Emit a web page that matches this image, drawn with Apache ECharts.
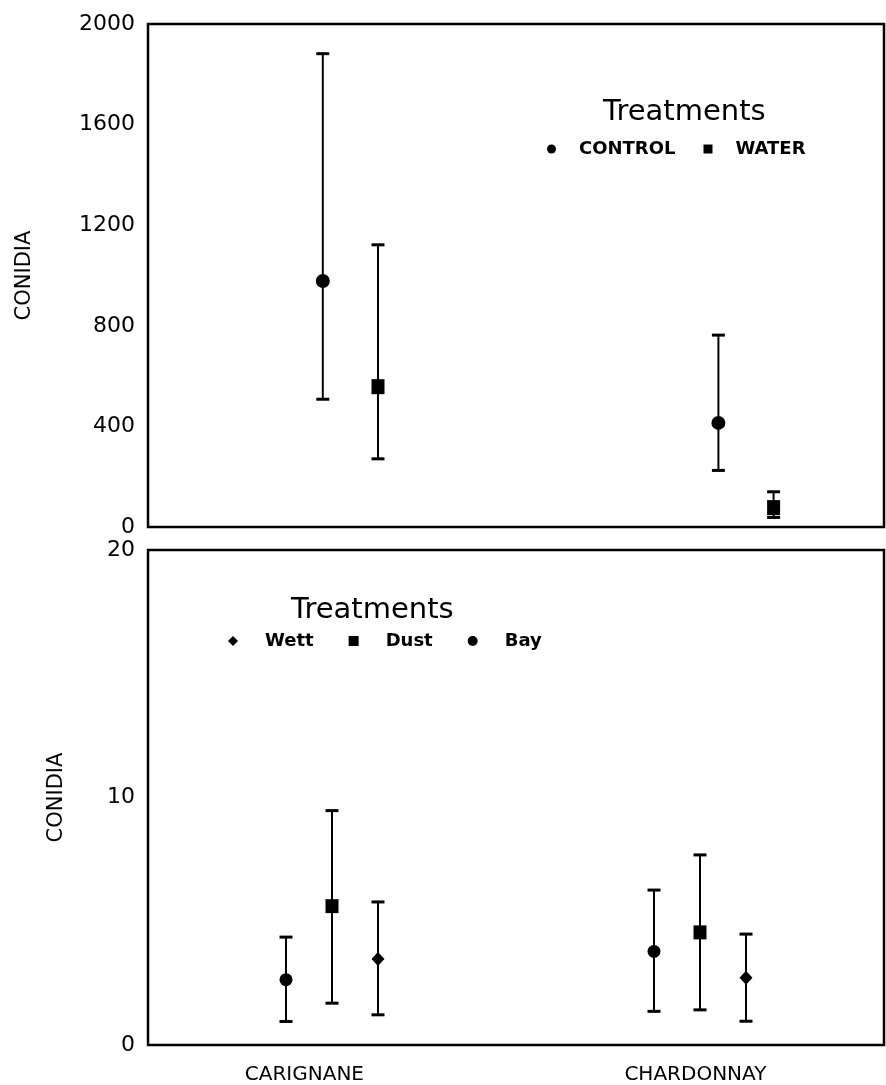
<!DOCTYPE html>
<html>
<head>
<meta charset="utf-8">
<script src="https://cdn.jsdelivr.net/npm/echarts@6/dist/echarts.min.js"></script>
<style>
  html, body { margin: 0; padding: 0; background: #fff; }
  #main { width: 886px; height: 1085px; }
</style>
</head>
<body>
<div id="main"></div>
<script>
// varieties and where their names sit on the x axis
var varieties = ['CARIGNANE', 'CHARDONNAY'];
var varietyPos = [3.4, 11.9];

// top panel: CONTROL / WATER
var controlX = [3.8, 12.4];
var controlMean = [978, 414];
var controlLow = [508, 225];
var controlHigh = [1882, 763];

var waterX = [5.0, 13.6];
var waterMean = [558, 77];
var waterLow = [271, 38];
var waterHigh = [1122, 140];

// bottom panel: Wett / Dust / Bay
var bayX = [3, 11];
var bayMean = [2.64, 3.78];
var bayLow = [0.95, 1.36];
var bayHigh = [4.36, 6.26];

var dustX = [4, 12];
var dustMean = [5.61, 4.55];
var dustLow = [1.69, 1.42];
var dustHigh = [9.47, 7.68];

var wettX = [5, 13];
var wettMean = [3.47, 2.72];
var wettLow = [1.22, 0.96];
var wettHigh = [5.78, 4.48];

var FONT = 'DejaVu Sans';

function pts(xs, ys) {
	var out = [];
	for (var i = 0; i < xs.length; i++) out.push([xs[i], ys[i]]);
	return out;
}
function bars(xs, lo, hi) {
	var out = [];
	for (var i = 0; i < xs.length; i++) out.push([xs[i], lo[i], hi[i]]);
	return out;
}

function errorBar(params, api) {
	var x = api.value(0);
	var p1 = api.coord([x, api.value(2)]);
	var p2 = api.coord([x, api.value(1)]);
	var w = 6.5;
	return {
		type: 'group',
		children: [
			{type: 'line', shape: {x1: p1[0], y1: p1[1], x2: p2[0], y2: p2[1]}, style: {stroke: '#000', lineWidth: 2}},
			{type: 'line', shape: {x1: p1[0] - w, y1: p1[1], x2: p1[0] + w, y2: p1[1]}, style: {stroke: '#000', lineWidth: 3}},
			{type: 'line', shape: {x1: p2[0] - w, y1: p2[1], x2: p2[0] + w, y2: p2[1]}, style: {stroke: '#000', lineWidth: 3}}
		]
	};
}

function errSeries(name, idx, data) {
	return {
		name: name, type: 'custom', xAxisIndex: idx, yAxisIndex: idx,
		renderItem: errorBar, encode: {x: 0, y: [1, 2]}, data: data, z: 2, silent: true
	};
}
function meanSeries(name, idx, symbol, size, data) {
	return {
		name: name, type: 'scatter', xAxisIndex: idx, yAxisIndex: idx,
		symbol: symbol, symbolSize: size, itemStyle: {color: '#000', opacity: 1},
		data: data, z: 5
	};
}

var legendText = {fontFamily: FONT, fontSize: 18, fontWeight: 'bold', color: '#000'};

var myChart = echarts.init(document.getElementById('main'));

var option = {
	animation: false,
	backgroundColor: '#fff',
	textStyle: {fontFamily: FONT, color: '#000'},
	title: [
		{text: 'Treatments', left: 598, top: 93, textStyle: {fontFamily: FONT, fontSize: 29, fontWeight: 'normal', color: '#000'}},
		{text: 'Treatments', left: 286, top: 591, textStyle: {fontFamily: FONT, fontSize: 29, fontWeight: 'normal', color: '#000'}}
	],
	legend: [
		{
			data: [{name: 'CONTROL', icon: 'circle'}, {name: 'WATER', icon: 'rect'}],
			left: 542, top: 135, itemWidth: 9, itemHeight: 9, itemGap: 28,
			textStyle: Object.assign({padding: [0, 0, 0, 18]}, legendText)
		},
		{
			data: [{name: 'Wett', icon: 'diamond'}, {name: 'Dust', icon: 'rect'}, {name: 'Bay', icon: 'circle'}],
			left: 223, top: 627, itemWidth: 10, itemHeight: 10, itemGap: 35,
			textStyle: Object.assign({padding: [0, 0, 0, 22]}, legendText)
		}
	],
	grid: [
		{left: 148, top: 24, width: 736, height: 503, show: true, borderColor: '#000', borderWidth: 2.5},
		{left: 148, top: 550, width: 736, height: 497, show: true, borderColor: '#000', borderWidth: 2.5}
	],
	xAxis: [
		{
			type: 'value', gridIndex: 0, min: 0, max: 16,
			axisLine: {show: false}, axisTick: {show: false}, axisLabel: {show: false}, splitLine: {show: false}
		},
		{
			type: 'value', gridIndex: 1, min: 0, max: 16,
			axisLine: {show: false}, axisTick: {show: false}, splitLine: {show: false},
			axisLabel: {
				customValues: varietyPos, margin: 20,
				fontFamily: FONT, fontSize: 20, color: '#000',
				formatter: function (v) {
					var i = varietyPos.indexOf(v);
					return i >= 0 ? varieties[i] : '';
				}
			}
		}
	],
	yAxis: [
		{
			type: 'value', gridIndex: 0, min: 0, max: 2000, interval: 400,
			name: 'CONIDIA', nameLocation: 'middle', nameGap: 113,
			nameTextStyle: {fontFamily: FONT, fontSize: 21, color: '#000'},
			axisLine: {show: false}, axisTick: {show: false}, splitLine: {show: false},
			axisLabel: {margin: 13, fontFamily: FONT, fontSize: 22, color: '#000', formatter: function (v) { return String(v); }}
		},
		{
			type: 'value', gridIndex: 1, min: 0, max: 20, interval: 10,
			name: 'CONIDIA', nameLocation: 'middle', nameGap: 81,
			nameTextStyle: {fontFamily: FONT, fontSize: 21, color: '#000'},
			axisLine: {show: false}, axisTick: {show: false}, splitLine: {show: false},
			axisLabel: {margin: 13, fontFamily: FONT, fontSize: 22, color: '#000', formatter: function (v) { return String(v); }}
		}
	],
	series: [
		errSeries('CONTROL err', 0, bars(controlX, controlLow, controlHigh)),
		errSeries('WATER err', 0, bars(waterX, waterLow, waterHigh)),
		meanSeries('CONTROL', 0, 'circle', 14, pts(controlX, controlMean)),
		meanSeries('WATER', 0, 'rect', [13, 15], pts(waterX, waterMean)),

		errSeries('Bay err', 1, bars(bayX, bayLow, bayHigh)),
		errSeries('Dust err', 1, bars(dustX, dustLow, dustHigh)),
		errSeries('Wett err', 1, bars(wettX, wettLow, wettHigh)),
		meanSeries('Bay', 1, 'circle', 13, pts(bayX, bayMean)),
		meanSeries('Dust', 1, 'rect', [13, 14], pts(dustX, dustMean)),
		meanSeries('Wett', 1, 'diamond', [13, 14], pts(wettX, wettMean))
	]
};

myChart.setOption(option);
</script>
</body>
</html>
